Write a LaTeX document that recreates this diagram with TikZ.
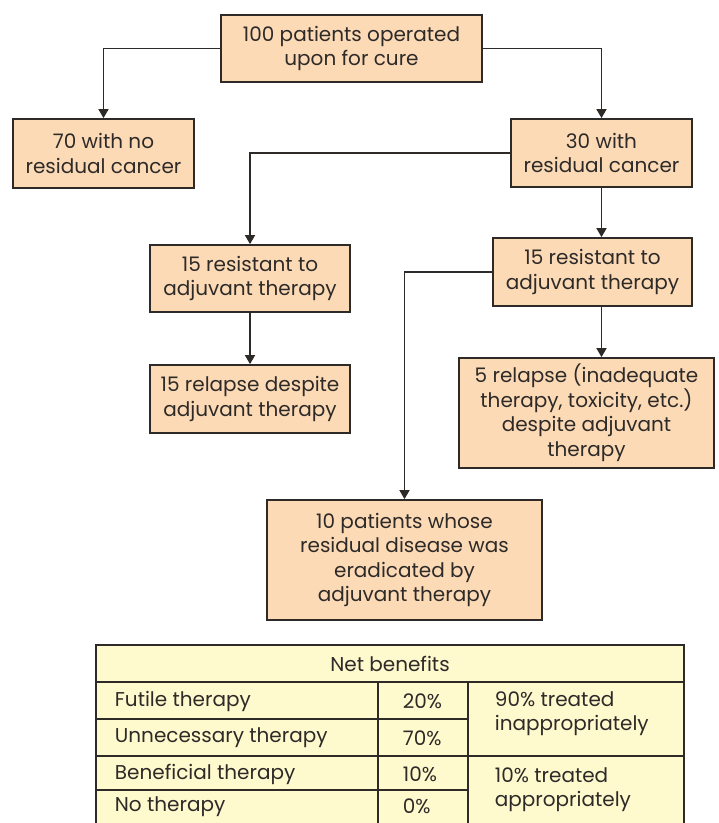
\documentclass[tikz,border=0pt]{standalone}
\usepackage{fontspec}
\setmainfont{Poppins}
\usetikzlibrary{arrows.meta}
\definecolor{peach}{RGB}{252,218,182}
\definecolor{cream}{RGB}{255,249,206}
\definecolor{ink}{RGB}{45,42,40}
\begin{document}
\begin{tikzpicture}[x=1pt,y=-1pt,color=ink,line width=1.8pt,
  box node/.style={rectangle,draw,fill=peach,align=center,inner sep=0pt,
    font=\fontsize{20}{24.5}\selectfont},
  cell/.style={inner sep=0pt,align=left,font=\fontsize{20}{24}\selectfont},
  arr/.style={-{Triangle[width=10pt,length=9pt]},line width=1.7pt}]

  \useasboundingbox (0,0) rectangle (719,823);
  \clip (0,0) rectangle (719,823);

  \node[box node,minimum width=261pt,minimum height=67pt] (top) at (351.5,48.5) {100 patients operated\\upon for cure};
  \node[box node,minimum width=181pt,minimum height=69pt] (no) at (103.5,153.5) {70 with no\\residual cancer};
  \node[box node,minimum width=181pt,minimum height=68pt] (res) at (601.5,153) {30 with\\residual cancer};
  \node[box node,minimum width=200pt,minimum height=67pt] (lres) at (250,278.5) {15 resistant to\\adjuvant therapy};
  \node[box node,minimum width=199pt,minimum height=68pt] (rres) at (592.5,272) {15 resistant to\\adjuvant therapy};
  \node[box node,minimum width=200pt,minimum height=68pt] (lrel) at (250,399) {15 relapse despite\\adjuvant therapy};
  \node[box node,minimum width=255pt,minimum height=110pt] (rrel) at (586.5,413) {5 relapse (inadequate\\therapy, toxicity, etc.)\\despite adjuvant\\therapy};
  \node[box node,minimum width=275pt,minimum height=120pt] (ten) at (404.5,560) {10 patients whose\\residual disease was\\eradicated by\\adjuvant therapy};

  \draw[arr] (top.west) -| (no.north);
  \draw[arr] (top.east) -| (res.north);
  \draw[arr] (res.west) -| (lres.north);
  \draw[arr] (res.south) -- (res.south |- rres.north);
  \draw[arr] (lres.south) -- (lrel.north);
  \draw[arr] (res.south |- rres.south) -- (res.south |- rrel.north);
  \draw[arr] (rres.west) -| (ten.north);

  \draw[fill=cream] (96,645) rectangle (684,827);
  \draw (96,682) -- (684,682);
  \draw (96,719) -- (468,719);
  \draw (96,756) -- (684,756);
  \draw (96,790) -- (468,790);
  \draw (378,682) -- (378,827);
  \draw (468,682) -- (468,827);

  \node[cell] (net) at (390,664) {Net benefits};
  \node[cell,anchor=west] (futile) at (114,701.5) {Futile therapy};
  \node[cell,anchor=west] (unnec) at (114,738) {Unnecessary therapy};
  \node[cell,anchor=west] (benef) at (114,774) {Beneficial therapy};
  \node[cell,anchor=west] (none) at (114,806.5) {No therapy};
  \node[cell,anchor=west] (p20) at (402,701.5) {20\%};
  \node[cell,anchor=west] (p70) at (402,738) {70\%};
  \node[cell,anchor=west] (p10) at (402,774) {10\%};
  \node[cell,anchor=west] (p0) at (402,806.5) {0\%};
  \node[cell,anchor=west] (inapp) at (494,714) {90\% treated\\inappropriately};
  \node[cell,anchor=west] (app) at (494,790) {10\% treated\\appropriately};
\end{tikzpicture}
\end{document}
